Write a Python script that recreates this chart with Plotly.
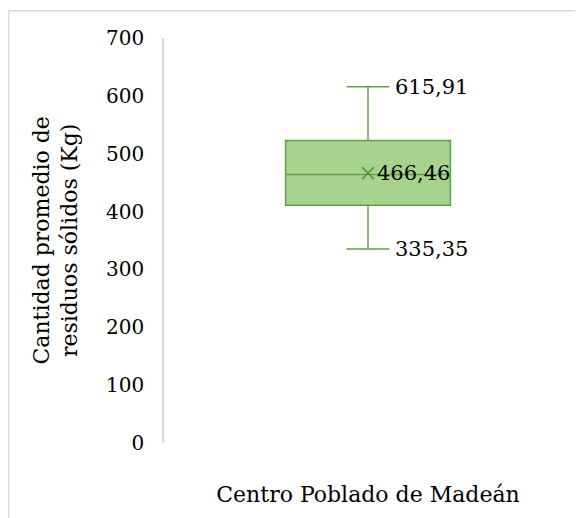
import plotly.graph_objects as go

category = ["Centro Poblado de Madeán"]
q1 = [411.0]
median = [464.0]
q3 = [523.0]
lower_fence = [335.35]
upper_fence = [615.91]
mean = [466.46]
y_ticks = [0, 100, 200, 300, 400, 500, 600, 700]
y_title = "Cantidad promedio de<br>residuos sólidos (Kg)"

FONT = "DejaVu Serif"
GREEN_FILL = "#a8d38f"
GREEN_LINE = "#62a143"
MEAN_COLOR = "#5a9145"

def fmt(v):
    return f"{v:.2f}".replace(".", ",")

fig = go.Figure()
fig.add_trace(go.Box(
    x=category, q1=q1, median=median, q3=q3,
    lowerfence=lower_fence, upperfence=upper_fence,
    fillcolor=GREEN_FILL, line=dict(color=GREEN_LINE, width=1.5),
    width=0.404, whiskerwidth=0.26, boxpoints=False, showlegend=False,
    hoverinfo="skip",
))
fig.add_trace(go.Scatter(
    x=category, y=mean, mode="markers",
    marker=dict(symbol="x-thin", size=12, line=dict(color=MEAN_COLOR, width=1.5)),
    showlegend=False, hoverinfo="skip",
))

for val, shift in [(upper_fence[0], 25), (mean[0], 7), (lower_fence[0], 25)]:
    fig.add_annotation(x=category[0], y=val, text=fmt(val), showarrow=False,
                       xanchor="left", yanchor="middle", xshift=shift,
                       font=dict(family=FONT, size=21, color="#000000"))

fig.add_annotation(xref="paper", yref="paper", x=-0.267, y=0.5, text=y_title,
                   textangle=-90, showarrow=False, xanchor="center", yanchor="middle",
                   font=dict(family=FONT, size=22, color="#000000"))

# outer border
fig.add_shape(type="line", xref="paper", yref="paper", x0=-0.381, x1=-0.381, y0=1.0672, y1=-1,
              line=dict(color="#d9d9d9", width=1.5))
fig.add_shape(type="line", xref="paper", yref="paper", x0=-0.381, x1=2, y0=1.0672, y1=1.0672,
              line=dict(color="#d9d9d9", width=1.5))

fig.update_layout(
    width=575, height=510,
    margin=dict(l=156, r=11, t=30, b=71),
    paper_bgcolor="white", plot_bgcolor="white",
    font=dict(family=FONT, size=20, color="#000000"),
)
fig.update_xaxes(type="category", range=[-0.5, 0.5], showline=False, showgrid=False,
                 zeroline=False, ticks="", ticklabelstandoff=36,
                 tickfont=dict(family=FONT, size=22, color="#000000"))
fig.update_yaxes(range=[0, 700], tickvals=y_ticks, showline=True, linecolor="#d9d9d9",
                 linewidth=1.5, showgrid=False, zeroline=False, ticks="",
                 ticklabelstandoff=14, tickfont=dict(family=FONT, size=20, color="#000000"))

fig.write_html("out.html")
